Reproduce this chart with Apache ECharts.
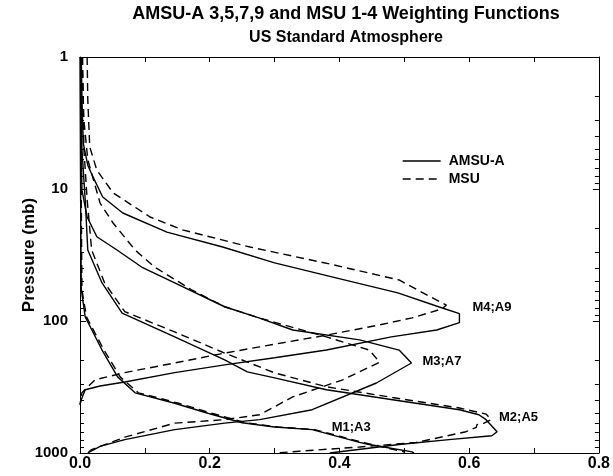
<!DOCTYPE html>
<html>
<head>
<meta charset="utf-8">
<script src="https://cdn.jsdelivr.net/npm/echarts@6/dist/echarts.min.js"></script>
<style>
html,body{margin:0;padding:0;background:#fff;}
#chart{width:613px;height:476px;}
</style>
</head>
<body>
<div id="chart"></div>
<script>
// [weight, pressure (mb)]
const A9 = [[0.002,1],[0.003,2.1],[0.005,4.5],[0.012,6.6],[0.02,8.1],[0.035,11.5],[0.066,15.2],[0.134,21.2],[0.22,27.5],[0.30,36.3],[0.39,46.5],[0.49,61.3],[0.554,78.3],[0.585,88],[0.585,103],[0.55,117],[0.48,132],[0.38,166],[0.30,190],[0.223,215],[0.146,246],[0.069,290],[0.031,311],[0.008,332],[0.002,395],[0.0,430]];
const M4 = [[0.011,1],[0.012,2.1],[0.015,4.8],[0.026,7.2],[0.051,10.7],[0.108,16.3],[0.158,20.4],[0.262,27.5],[0.385,37],[0.492,48.9],[0.558,73],[0.565,75.7],[0.558,81],[0.512,94.7],[0.462,107],[0.38,128],[0.277,157],[0.223,175],[0.146,208],[0.069,246],[0.023,279],[0.003,350],[0.0,431]];
const A7 = [[0.001,1],[0.002,5],[0.003,10.2],[0.011,16.3],[0.026,23],[0.057,29],[0.095,39],[0.146,51.5],[0.223,78],[0.277,95],[0.328,117],[0.431,139],[0.492,166],[0.511,208],[0.457,295],[0.358,470],[0.277,559],[0.223,594],[0.146,665],[0.069,792],[0.031,890],[0.012,1000]];
const M3 = [[0.003,1],[0.006,3],[0.012,6],[0.023,9.3],[0.031,12.8],[0.051,18.1],[0.085,29],[0.115,39],[0.172,58],[0.223,78],[0.277,95],[0.38,132],[0.446,166],[0.462,205],[0.405,279],[0.328,376],[0.277,513],[0.223,559],[0.146,594],[0.069,759],[0.018,942],[0.011,1000]];
const A5 = [[0.001,1],[0.003,5],[0.008,12],[0.012,29],[0.034,51.5],[0.065,87],[0.146,132],[0.223,197],[0.258,243],[0.30,270],[0.38,332],[0.482,395],[0.585,470],[0.615,513],[0.626,559],[0.643,690],[0.635,740],[0.569,792],[0.492,863],[0.385,1000]];
const M2 = [[0.004,1],[0.006,5],[0.011,12],[0.018,29],[0.038,51.5],[0.069,85],[0.146,121],[0.223,175],[0.30,247],[0.38,315],[0.482,380],[0.585,456],[0.626,507],[0.634,559],[0.623,594],[0.612,610],[0.611,640],[0.595,690],[0.518,833],[0.431,900],[0.338,970],[0.30,1000]];
const A3 = [[0.0,1],[0.001,12],[0.002,58],[0.008,93],[0.034,166],[0.058,265],[0.085,350],[0.146,420],[0.197,500],[0.25,590],[0.30,636],[0.358,665],[0.431,830],[0.446,863],[0.512,980],[0.515,1000]];
const M1 = [[0.001,1],[0.002,12],[0.003,58],[0.010,93],[0.037,166],[0.062,265],[0.09,350],[0.152,420],[0.203,500],[0.256,590],[0.305,636],[0.362,665],[0.435,830],[0.45,863],[0.50,980],[0.50,1000]];

const labelTexts = ['M4;A9','M3;A7','M2;A5','M1;A3'];
const labelAnchors = [[0.605,78.3],[0.528,204],[0.646,535],[0.388,643]];

const FONT = 'Liberation Sans, Arial, Helvetica, sans-serif';
const chart = echarts.init(document.getElementById('chart'), null, {renderer:'canvas'});

function curve(name, data, dashed){
  return {
    name: name, type:'line', data:data, symbol:'none', smooth:false,
    xAxisIndex:0, yAxisIndex:0, animation:false, silent:true,
    itemStyle:{color:'#000'},
    lineStyle:{color:'#000', width:1.4, type: dashed ? [8,5] : 'solid'}
  };
}

const option = {
  backgroundColor:'#fff',
  animation:false,
  title:{
    text:'AMSU-A 3,5,7,9 and MSU 1-4 Weighting Functions',
    subtext:'US Standard Atmosphere',
    left:341, top:0, textAlign:'center', itemGap:7,
    textStyle:{fontFamily:FONT, fontWeight:'bold', fontSize:18, color:'#000'},
    subtextStyle:{fontFamily:FONT, fontWeight:'bold', fontSize:16, color:'#000'}
  },
  legend:{
    data:['AMSU-A','MSU'], orient:'vertical', left:402, top:154, padding:0,
    itemWidth:38, itemHeight:14, itemGap:4,
    itemStyle:{opacity:0},
    lineStyle:{color:'#000', width:1.4},
    textStyle:{fontFamily:FONT, fontWeight:'bold', fontSize:14, color:'#000', padding:[0,0,0,3]}
  },
  grid:{left:80, right:13, top:57, bottom:23, show:false},
  xAxis:[{
    type:'value', min:0, max:0.8, interval:0.2, position:'bottom',
    axisLine:{show:true, onZero:false, lineStyle:{color:'#000', width:1}},
    axisTick:{show:true, inside:true, length:5, lineStyle:{color:'#000'}},
    minorTick:{show:true, splitNumber:2, length:5, lineStyle:{color:'#000'}},
    splitLine:{show:false},
    axisLabel:{fontFamily:FONT, fontWeight:'bold', fontSize:16, color:'#000', margin:3,
      formatter:function(v){return v.toFixed(1);}}
  },{
    type:'value', min:0, max:0.8, interval:0.2, position:'top',
    axisLine:{show:true, onZero:false, lineStyle:{color:'#000', width:1}},
    axisTick:{show:true, inside:true, length:5, lineStyle:{color:'#000'}},
    minorTick:{show:true, splitNumber:2, length:5, lineStyle:{color:'#000'}},
    splitLine:{show:false}, axisLabel:{show:false}
  }],
  yAxis:[{
    type:'log', logBase:10, min:1, max:1000, inverse:true, position:'left',
    name:'Pressure (mb)', nameLocation:'middle', nameGap:42, nameRotate:90, nameMoveOverlap:false,
    nameTextStyle:{fontFamily:FONT, fontWeight:'bold', fontSize:17, color:'#000'},
    axisLine:{show:true, onZero:false, lineStyle:{color:'#000', width:1}},
    axisTick:{show:true, inside:true, length:6, lineStyle:{color:'#000'}},
    minorTick:{show:true, splitNumber:9, length:4, lineStyle:{color:'#000'}},
    splitLine:{show:false},
    axisLabel:{fontFamily:FONT, fontWeight:'bold', fontSize:15, color:'#000', margin:12,
      formatter:function(v){return String(Math.round(v));}}
  },{
    type:'log', logBase:10, min:1, max:1000, inverse:true, position:'right',
    axisLine:{show:true, onZero:false, lineStyle:{color:'#000', width:1}},
    axisTick:{show:true, inside:true, length:6, lineStyle:{color:'#000'}},
    minorTick:{show:true, splitNumber:9, length:4, lineStyle:{color:'#000'}},
    splitLine:{show:false}, axisLabel:{show:false}
  }],
  series:[
    curve('AMSU-A', A9, false),
    curve('MSU', M4, true),
    curve('AMSU-A', A7, false),
    curve('MSU', M3, true),
    curve('AMSU-A', A5, false),
    curve('MSU', M2, true),
    curve('AMSU-A', A3, false),
    curve('MSU', M1, true),
    {
      name:'labels', type:'scatter', symbolSize:0, silent:true,
      data: labelAnchors.map(function(a,i){return {value:a, name:labelTexts[i]};}),
      label:{show:true, position:'inside', align:'left', verticalAlign:'middle',
        formatter:function(p){return p.name;}, opacity:1, textBorderWidth:0,
        fontFamily:FONT, fontWeight:'bold', fontSize:13, color:'#000'}
    }
  ]
};
chart.setOption(option);
</script>
</body>
</html>
